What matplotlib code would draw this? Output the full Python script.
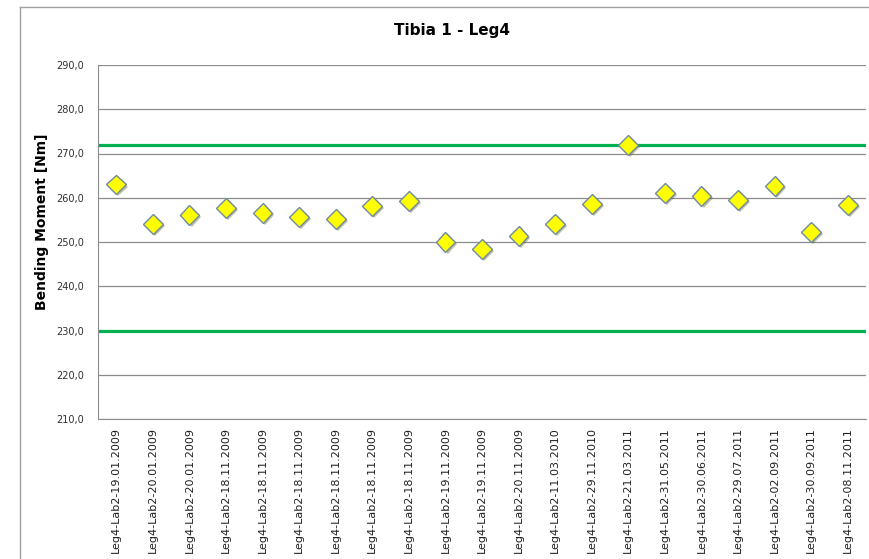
import matplotlib.pyplot as plt
import matplotlib.patheffects as pe
from matplotlib.ticker import FuncFormatter

labels = [
    "Leg4-Lab2-19.01.2009", "Leg4-Lab2-20.01.2009", "Leg4-Lab2-20.01.2009",
    "Leg4-Lab2-18.11.2009", "Leg4-Lab2-18.11.2009", "Leg4-Lab2-18.11.2009",
    "Leg4-Lab2-18.11.2009", "Leg4-Lab2-18.11.2009", "Leg4-Lab2-18.11.2009",
    "Leg4-Lab2-19.11.2009", "Leg4-Lab2-19.11.2009", "Leg4-Lab2-20.11.2009",
    "Leg4-Lab2-11.03.2010", "Leg4-Lab2-29.11.2010", "Leg4-Lab2-21.03.2011",
    "Leg4-Lab2-31.05.2011", "Leg4-Lab2-30.06.2011", "Leg4-Lab2-29.07.2011",
    "Leg4-Lab2-02.09.2011", "Leg4-Lab2-30.09.2011", "Leg4-Lab2-08.11.2011",
]
moment = [263.0, 254.1, 256.1, 257.7, 256.5, 255.6, 255.2, 258.1, 259.3,
          250.0, 248.4, 251.4, 254.1, 258.6, 271.9, 261.1, 260.4, 259.5,
          262.7, 252.3, 258.4]
upper_limit = 272.0
lower_limit = 230.0
yticks = [210, 220, 230, 240, 250, 260, 270, 280, 290]

fig = plt.figure(figsize=(8.7, 5.59), dpi=100)

# outer chart border (Excel style)
fig.add_artist(plt.Line2D([20 / 870, 20 / 870], [0, 1 - 7 / 559], color="#a0a0a0", lw=1))
fig.add_artist(plt.Line2D([20 / 870, 1], [1 - 7 / 559, 1 - 7 / 559], color="#a0a0a0", lw=1))

ax = fig.add_axes([98 / 870, 1 - 419 / 559, (866 - 98) / 870, (419 - 65) / 559])

x = list(range(len(moment)))
ax.axhline(upper_limit, color="#00b050", lw=2.3, zorder=2)
ax.axhline(lower_limit, color="#00b050", lw=2.3, zorder=2)
ax.plot(x, moment, ls="none", marker="D", markersize=10, markerfacecolor="#ffff00",
        markeredgecolor="#6e8aa0", markeredgewidth=1.0, zorder=3,
        path_effects=[pe.SimplePatchShadow(offset=(1.5, -1.5), alpha=0.35), pe.Normal()])

ax.set_xlim(-0.5, len(moment) - 0.5)
ax.set_ylim(210, 290)
ax.set_yticks(yticks)
ax.yaxis.set_major_formatter(FuncFormatter(lambda v, p: f"{v:.1f}".replace(".", ",")))
ax.grid(axis="y", color="#8c8c8c", lw=0.9)
ax.set_axisbelow(True)
ax.set_xticks(x)
ax.set_xticklabels(labels, rotation=90, fontsize=8, color="#202020")
ax.tick_params(axis="x", length=0, pad=6)
ax.tick_params(axis="y", length=0, pad=10, labelsize=7, labelcolor="#303030")
for s in ["top", "right"]:
    ax.spines[s].set_visible(False)
for s in ["left", "bottom"]:
    ax.spines[s].set_color("#8c8c8c")

ax.set_ylabel("Bending Moment [Nm]", fontsize=10, fontweight="bold")
ax.yaxis.set_label_coords(-0.064, 0.556)
fig.text(452 / 870, 1 - 30 / 559, "Tibia 1 - Leg4", ha="center", va="center",
         fontsize=11, fontweight="bold")

fig.savefig("out.png", dpi=100)
